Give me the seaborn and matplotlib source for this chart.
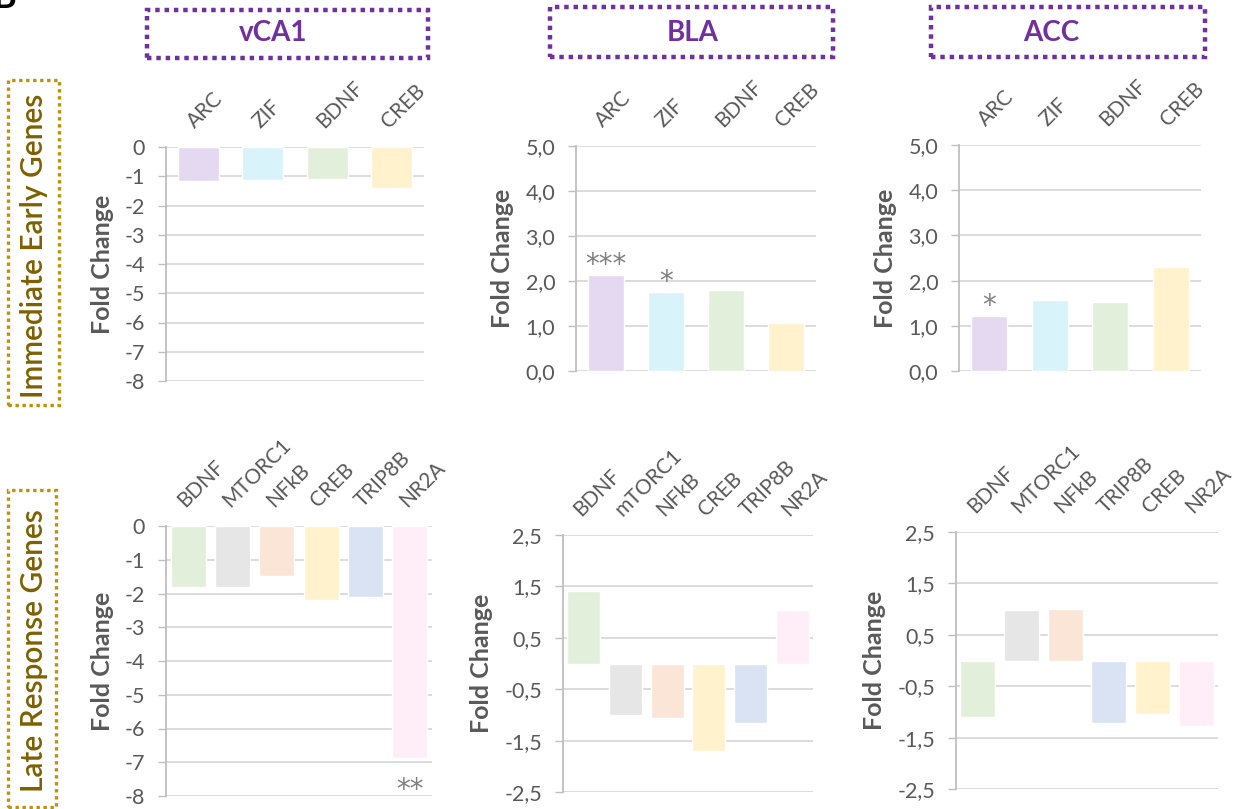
import matplotlib
matplotlib.use("Agg")
import matplotlib.pyplot as plt
from matplotlib.patches import Rectangle
import seaborn as sns
import pandas as pd

# ---- data -------------------------------------------------------------
regions = ["vCA1", "BLA", "ACC"]
row_titles = ["Immediate Early Genes", "Late Response Genes"]

ieg_genes = ["ARC", "ZIF", "BDNF", "CREB"]
ieg_vca1 = [-1.16, -1.13, -1.09, -1.40]
ieg_bla = [2.13, 1.76, 1.80, 1.07]
ieg_acc = [1.22, 1.56, 1.53, 2.31]

lrg_vca1_genes = ["BDNF", "MTORC1", "NFkB", "CREB", "TRIP8B", "NR2A"]
lrg_vca1 = [-1.81, -1.81, -1.47, -2.20, -2.09, -6.86]
lrg_bla_genes = ["BDNF", "mTORC1", "NFkB", "CREB", "TRIP8B", "NR2A"]
lrg_bla = [1.42, -1.01, -1.06, -1.71, -1.16, 1.05]
lrg_acc_genes = ["BDNF", "MTORC1", "NFkB", "TRIP8B", "CREB", "NR2A"]
lrg_acc = [-1.09, 0.99, 1.01, -1.22, -1.05, -1.27]

# significance stars per panel
sig_ieg_vca1 = {}
sig_ieg_bla = {"ARC": "***", "ZIF": "*"}
sig_ieg_acc = {"ARC": "*"}
sig_lrg_vca1 = {"NR2A": "**"}
sig_lrg_bla = {}
sig_lrg_acc = {}

gene_colors = {
    "ARC": "#E5D9F1", "ZIF": "#D9F3FA", "BDNF": "#E2EFDA", "CREB": "#FFF2CC",
    "MTORC1": "#E7E6E6", "mTORC1": "#E7E6E6", "NFkB": "#FBE5D6",
    "TRIP8B": "#DAE3F3", "NR2A": "#FFEDF8",
}

ticks_neg8 = [0, -1, -2, -3, -4, -5, -6, -7, -8]
ticks_0_5 = [0.0, 1.0, 2.0, 3.0, 4.0, 5.0]
ticks_sym = [-2.5, -1.5, -0.5, 0.5, 1.5, 2.5]

# ---- style ------------------------------------------------------------
sns.set_theme(style="white")
plt.rcParams["font.family"] = ["Lato", "DejaVu Sans"]

W, H = 1255, 809
fig = plt.figure(figsize=(W / 100, H / 100), dpi=100)

TXT = "#595959"
GRID = "#D9D9D9"
AXIS = "#BFBFBF"
PURPLE = "#7030A0"
GOLD = "#BF9000"
GOLD_TXT = "#7F6000"


def px_axes(x0, x1, y0, y1):
    return fig.add_axes([x0 / W, 1 - y1 / H, (x1 - x0) / W, (y1 - y0) / H])


def fmt(v, comma):
    if comma:
        return f"{v:.1f}".replace(".", ",")
    return f"{v:g}"


panels = [
    # genes, values, sig, ticks, comma, bar width, axes px box
    (ieg_genes, ieg_vca1, sig_ieg_vca1, ticks_neg8, False, 0.64, (166, 424, 147, 381)),
    (ieg_genes, ieg_bla, sig_ieg_bla, ticks_0_5, True, 0.60, (576, 816, 146, 371)),
    (ieg_genes, ieg_acc, sig_ieg_acc, ticks_0_5, True, 0.60, (959, 1201, 145, 371)),
    (lrg_vca1_genes, lrg_vca1, sig_lrg_vca1, ticks_neg8, False, 0.79, (166, 432, 526, 796)),
    (lrg_bla_genes, lrg_bla, sig_lrg_bla, ticks_sym, True, 0.79, (563, 813, 535, 792)),
    (lrg_acc_genes, lrg_acc, sig_lrg_acc, ticks_sym, True, 0.80, (956, 1218, 532, 789)),
]

for genes, vals, sig, ticks, comma, bw, box in panels:
    ax = px_axes(*box)
    df = pd.DataFrame({"gene": genes, "fold": vals})
    sns.barplot(data=df, x="gene", y="fold", hue="gene", palette=gene_colors,
                order=genes, hue_order=genes, width=bw, saturation=1,
                legend=False, ax=ax)
    ax.set_ylim(min(ticks), max(ticks))
    ax.set_yticks(ticks)
    ax.set_yticklabels([fmt(t, comma) for t in ticks])
    ax.set_axisbelow(True)
    ax.yaxis.grid(True, color=GRID, linewidth=1.3)
    ax.xaxis.grid(False)
    for s in ("top", "right", "bottom"):
        ax.spines[s].set_visible(False)
    ax.spines["left"].set_color(AXIS)
    ax.spines["left"].set_linewidth(1.3)
    ax.tick_params(axis="y", left=True, length=6, width=1.0, color=AXIS,
                   labelsize=15.5, labelcolor=TXT, pad=9)
    ax.xaxis.set_ticks_position("top")
    ax.tick_params(axis="x", top=True, bottom=False, labeltop=True,
                   labelbottom=False, length=0, labelsize=15,
                   labelcolor=TXT, pad=11)
    for lab in ax.get_xticklabels():
        lab.set_rotation(45)
        lab.set_ha("left")
        lab.set_va("bottom")
        lab.set_rotation_mode("anchor")
    ax.set_xlabel("")
    ax.set_ylabel("Fold Change", fontsize=18, fontweight="bold", color=TXT,
                  labelpad=8)
    for i, g in enumerate(genes):
        if g in sig:
            v = vals[i]
            off = 1.5 if v >= 0 else -29
            ax.annotate(sig[g], (i, v), xytext=(0, off),
                        textcoords="offset points", ha="center",
                        va="baseline", fontsize=20, color="#808080",
                        family="DejaVu Sans")

# ---- region headers (dotted purple boxes) -----------------------------
header_boxes = [(147, 428, 10, 58, 273), (550, 833, 7, 57, 693),
                (931, 1205, 7, 57, 1051)]
for name, (x0, x1, y0, y1, tx) in zip(regions, header_boxes):
    fig.patches.append(Rectangle((x0 / W, 1 - y1 / H), (x1 - x0) / W,
                                 (y1 - y0) / H, transform=fig.transFigure,
                                 fill=False, edgecolor=PURPLE, linewidth=3.2,
                                 linestyle=(0, (1, 1.1))))
    fig.text(tx / W, 1 - 33 / H, name, ha="center", va="center",
             fontsize=20, fontweight="bold", color=PURPLE)

# ---- row headers (dotted gold boxes) -----------------------------------
row_boxes = [(8, 59, 80, 405, 246), (8, 56, 490, 807, 651)]
for name, (x0, x1, y0, y1, ty) in zip(row_titles, row_boxes):
    fig.patches.append(Rectangle((x0 / W, 1 - y1 / H), (x1 - x0) / W,
                                 (y1 - y0) / H, transform=fig.transFigure,
                                 fill=False, edgecolor=GOLD, linewidth=2.4,
                                 linestyle=(0, (1, 1.1))))
    fig.text(34 / W, 1 - ty / H, name, ha="center", va="center",
             rotation=90, fontsize=21.5, fontweight="semibold",
             color=GOLD_TXT)

# panel letter, mostly outside the canvas
fig.text(16 / W, 1 - 8 / H, "B", ha="right", va="baseline",
         fontsize=26, fontweight="bold", color="black")

fig.savefig("out.png", dpi=100)
